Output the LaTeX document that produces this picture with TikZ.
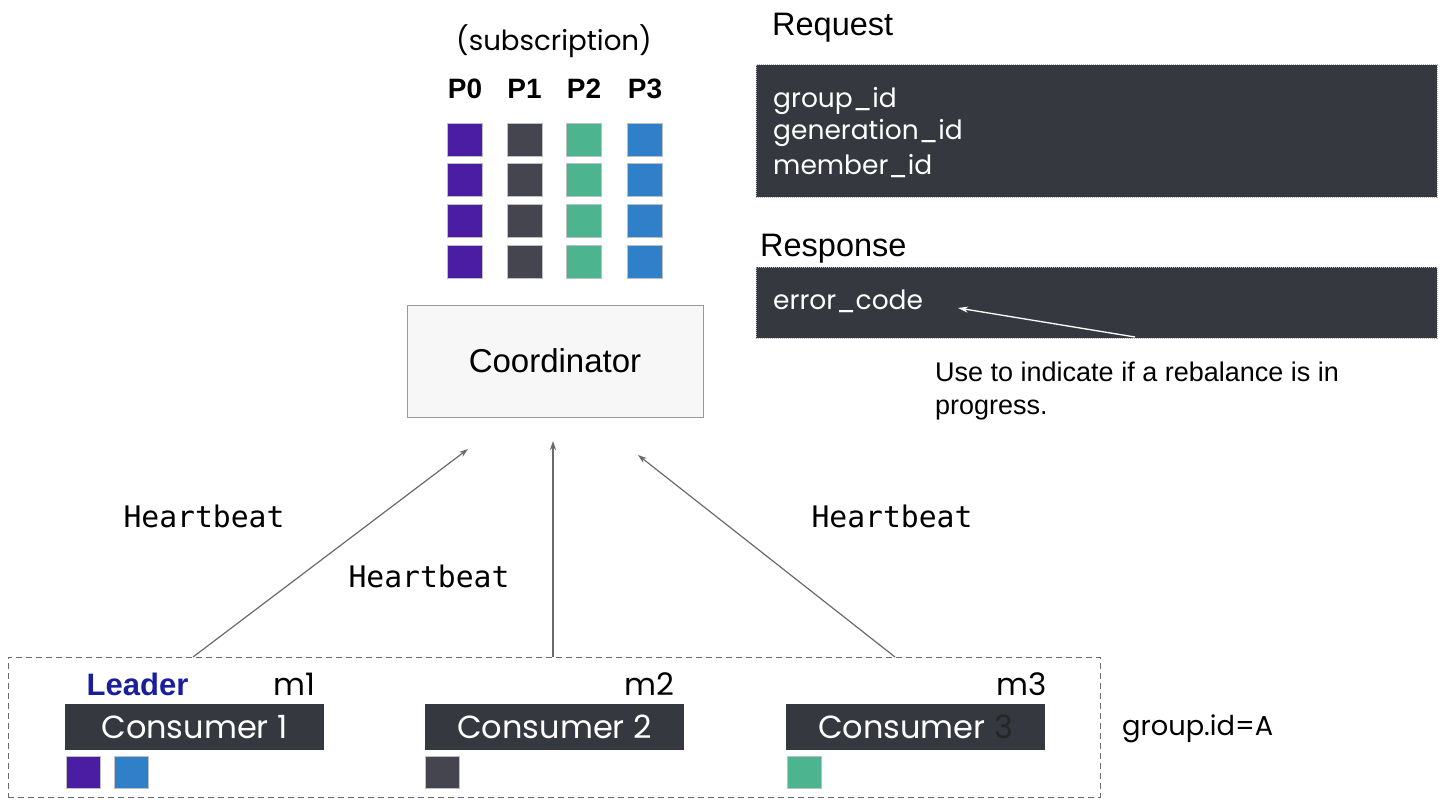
\documentclass[tikz,border=0pt]{standalone}
\usepackage{fontspec}
\setmainfont{Liberation Sans}
\newfontfamily\mont{Poppins}
\newfontfamily\robo{Liberation Sans}
\newfontfamily\monof{DejaVu Sans Mono}
\usetikzlibrary{arrows.meta}
\definecolor{cpurple}{HTML}{4A1DA3}
\definecolor{cgray}{HTML}{45454F}
\definecolor{cgreen}{HTML}{4CB48E}
\definecolor{cblue}{HTML}{2F80C9}
\definecolor{cdark}{HTML}{35383F}
\definecolor{cnavy}{HTML}{1A1E9C}
\definecolor{cline}{HTML}{6A6A6A}
\tikzset{
  sq/.style={rectangle, inner sep=0pt, minimum width=35pt, minimum height=33pt, draw=black!25, line width=0.6pt},
  darkbox/.style={rectangle, fill=cdark, draw=gray!60, densely dotted, line width=1pt, inner sep=0pt},
  consbox/.style={rectangle, fill=cdark, inner sep=0pt, minimum width=259pt, minimum height=46pt, text=white, font=\mont\fontsize{32}{34}\selectfont},
  hb/.style={font=\monof\fontsize{29.7}{32}\selectfont, inner sep=0pt},
  hbarrow/.style={draw=cline, line width=1.2pt, -{Stealth[length=9pt,width=6pt]}},
  plabel/.style={font=\robo\bfseries\fontsize{28}{30}\selectfont, inner sep=0pt},
  dtext/.style={text=white, anchor=west, inner sep=0pt, font=\mont\fontsize{26.5}{28}\selectfont},
  mlabel/.style={font=\mont\fontsize{31}{33}\selectfont, inner sep=0pt},
  biglabel/.style={anchor=west, inner sep=0pt, font=\robo\fontsize{32.5}{34}\selectfont}
}
\begin{document}
\begin{tikzpicture}[x=1pt,y=-1pt]
\useasboundingbox[fill=white] (0,0) rectangle (1454,800);

% subscription
\node[font=\mont\fontsize{27.7}{30}\selectfont, inner sep=0pt] (subs) at (554,41) {(subscription)};
\node[plabel] (lp0) at (465,89) {P0};
\node[plabel] (lp1) at (524.5,89) {P1};
\node[plabel] (lp2) at (584,89) {P2};
\node[plabel] (lp3) at (645,89) {P3};
\foreach \r/\y in {1/140,2/180,3/220.5,4/261.5}{
  \node[sq, fill=cpurple] (p0r\r) at (465,\y) {};
  \node[sq, fill=cgray] (p1r\r) at (524.5,\y) {};
  \node[sq, fill=cgreen] (p2r\r) at (584,\y) {};
  \node[sq, fill=cblue] (p3r\r) at (645,\y) {};
}

% coordinator
\node[rectangle, draw=gray!80, fill=black!3, line width=1pt, minimum width=296pt, minimum height=112pt, inner sep=0pt,
      font=\robo\fontsize{33}{35}\selectfont] (coord) at (555,361) {Coordinator};

% request / response
\node[biglabel] (reqlbl) at (772,28) {Request};
\node[darkbox, minimum width=681pt, minimum height=132pt] (req) at (1096.5,131) {};
\node[dtext] (gid) at (773,101) {group\_id};
\node[dtext] (genid) at (773,133) {generation\_id};
\node[dtext] (mid) at (773,166) {member\_id};

\node[biglabel] (resplbl) at (760,249) {Response};
\node[darkbox, minimum width=681pt, minimum height=71pt] (resp) at (1096.5,302.5) {};
\node[dtext] (err) at (773,301) {error\_code};
\coordinate (errtail) at (1135,337);
\coordinate (errhead) at (958,308);
\draw[white, line width=1.3pt, -{Stealth[length=10pt,width=6pt]}] (errtail) -- (errhead);
\node[anchor=north west, align=left, inner sep=0pt, font=\robo\fontsize{27}{33}\selectfont] (note) at (935,362)
  {Use to indicate if a rebalance is in\\progress.};

% group box
\node[rectangle, draw=cline, dash pattern=on 6pt off 4pt, line width=1pt, minimum width=1092pt, minimum height=140pt, inner sep=0pt] (grp) at (554,727) {};
\node[consbox] (c1) at (194.5,727) {Consumer 1};
\node[consbox] (c2) at (554.5,727) {Consumer 2};
\node[consbox] (c3) at (915.5,727) {Consumer {\color{black!85}3}};
\node[font=\robo\bfseries\fontsize{31}{33}\selectfont, text=cnavy, inner sep=0pt] (leader) at (137.5,684) {Leader};
\node[mlabel] (m1) at (294,684) {m1};
\node[mlabel] (m2) at (649.5,684) {m2};
\node[mlabel] (m3) at (1022,684) {m3};
\node[sq, fill=cpurple, minimum width=34pt, minimum height=32pt] (c1a) at (83,772) {};
\node[sq, fill=cblue, minimum width=34pt, minimum height=32pt] (c1b) at (131.5,772) {};
\node[sq, fill=cgray, minimum width=34pt, minimum height=32pt] (c2a) at (442.5,772) {};
\node[sq, fill=cgreen, minimum width=34pt, minimum height=32pt] (c3a) at (804,772) {};
\node[anchor=west, inner sep=0pt, font=\mont\fontsize{27.3}{29}\selectfont] (gida) at (1122,729) {group.id=A};

% heartbeats
\coordinate (t1) at (193,657);
\coordinate (t2) at (553,657);
\coordinate (t3) at (895,657);
\coordinate (h1) at (468,449);
\coordinate (h2) at (553,441);
\coordinate (h3) at (638,455);
\draw[hbarrow] (t1) -- (h1);
\draw[hbarrow] (t2) -- (h2);
\draw[hbarrow] (t3) -- (h3);
\node[hb] (hb1) at (204,516) {Heartbeat};
\node[hb] (hb2) at (429,576) {Heartbeat};
\node[hb] (hb3) at (892,516) {Heartbeat};
\end{tikzpicture}
\end{document}
